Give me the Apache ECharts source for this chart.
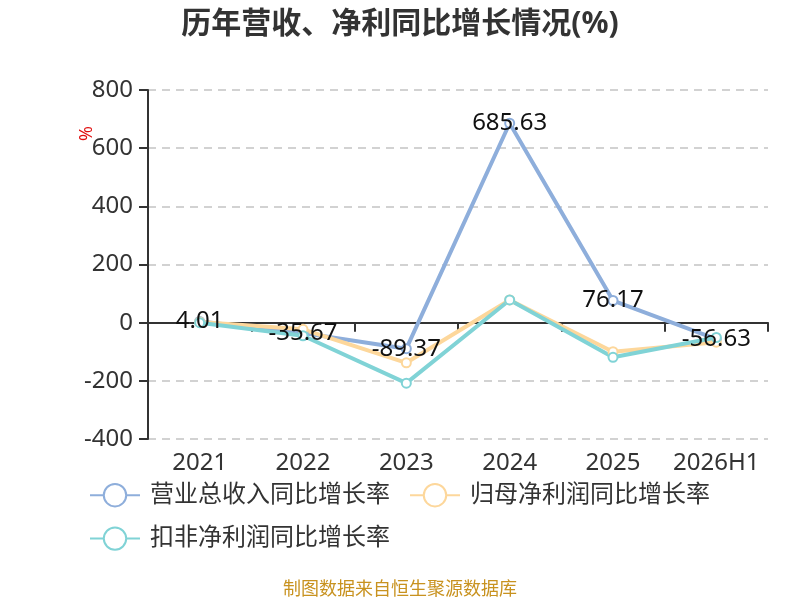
<!DOCTYPE html>
<html>
<head>
<meta charset="utf-8">
<script src="https://cdn.jsdelivr.net/npm/echarts@6/dist/echarts.min.js"></script>
<style>
  html, body { margin: 0; padding: 0; background: #fff; }
  #chart { width: 800px; height: 600px; }
</style>
</head>
<body>
<div id="chart"></div>
<script>
// 年份
var years = ['2021', '2022', '2023', '2024', '2025', '2026H1'];
// 营业总收入同比增长率
var revenueGrowth = [4.01, -35.67, -89.37, 685.63, 76.17, -56.63];
// 归母净利润同比增长率
var netProfitGrowth = [2, -23, -138, 78, -100, -67];
// 扣非净利润同比增长率
var deductedProfitGrowth = [0, -45, -208, 78, -119, -51];
var yTicks = { min: -400, max: 800, interval: 200 };

var font = '"Noto Sans", "Noto Sans CJK SC", sans-serif';
var chart = echarts.init(document.getElementById('chart'));

function lineSeries(name, data, color, withLabel) {
    return {
        name: name,
        type: 'line',
        data: data,
        symbol: 'emptyCircle',
        symbolSize: 9,
        lineStyle: { width: 4, color: color },
        itemStyle: { color: color, borderWidth: 2 },
        label: {
            show: withLabel,
            position: 'inside',
            fontSize: 24,
            color: '#111',
            fontFamily: font
        }
    };
}

var option = {
    animation: false,
    textStyle: { fontFamily: font },
    color: ['#8eaedb', '#fdd79b', '#80d3d6'],
    title: [
        {
            text: '历年营收、净利同比增长情况(%)',
            left: 'center',
            top: 4,
            textStyle: { fontSize: 30, fontWeight: 'bold', color: '#333', fontFamily: font }
        },
        {
            text: '制图数据来自恒生聚源数据库',
            left: 'center',
            top: 576,
            textStyle: { fontSize: 18, fontWeight: 'normal', color: '#c8921f', fontFamily: font }
        }
    ],
    graphic: [
        {
            type: 'text',
            x: 78,
            y: 141,
            rotation: Math.PI / 2,
            style: { text: '%', fill: '#e01010', fontSize: 18, fontFamily: font }
        }
    ],
    legend: {
        left: 84,
        top: 478,
        width: 660,
        itemWidth: 50,
        itemHeight: 28,
        itemGap: 19,
        lineStyle: { width: 2 },
        textStyle: { fontSize: 24, color: '#333', fontFamily: font, padding: [0, 0, 0, 5] },
        data: ['营业总收入同比增长率', '归母净利润同比增长率', '扣非净利润同比增长率']
    },
    grid: { left: 148, right: 32, top: 90, bottom: 161 },
    xAxis: [
        {
            type: 'category',
            data: years,
            position: 'bottom',
            axisLine: { show: false, onZero: false },
            axisTick: { show: false },
            axisLabel: { fontSize: 24, color: '#333', margin: 12, interval: 0, fontFamily: font }
        },
        {
            type: 'category',
            data: years,
            position: 'bottom',
            axisLine: { onZero: true, lineStyle: { color: '#333', width: 2 } },
            axisTick: { show: true, length: 9, lineStyle: { color: '#333', width: 2 } },
            axisLabel: { show: false }
        }
    ],
    yAxis: {
        type: 'value',
        min: yTicks.min,
        max: yTicks.max,
        interval: yTicks.interval,
        axisLine: { show: true, lineStyle: { color: '#333', width: 2 } },
        axisTick: { show: true, length: 9, lineStyle: { color: '#333', width: 2 } },
        axisLabel: { fontSize: 24, color: '#333', margin: 15, fontFamily: font },
        splitLine: { lineStyle: { type: [8, 6], color: '#c4c4c4', width: 1.5 } }
    },
    series: [
        lineSeries('营业总收入同比增长率', revenueGrowth, '#8eaedb', true),
        lineSeries('归母净利润同比增长率', netProfitGrowth, '#fdd79b', false),
        lineSeries('扣非净利润同比增长率', deductedProfitGrowth, '#80d3d6', false)
    ]
};

chart.setOption(option);
</script>
</body>
</html>
